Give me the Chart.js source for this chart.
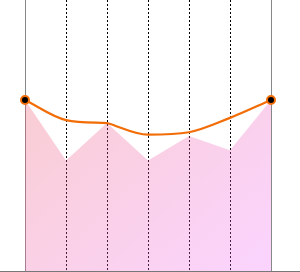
<!DOCTYPE html>
<html>
<head>
<meta charset="utf-8">
<script src="https://cdn.jsdelivr.net/npm/chart.js@4"></script>
<style>
  body { margin: 0; background: #fff; }
  #wrap { width: 300px; height: 271px; border-bottom: 1px solid #777; position: relative; }
</style>
</head>
<body>
<div id="wrap"><canvas id="myChart"></canvas></div>
<script>
// categories along x
var labels = ["1", "2", "3", "4", "5", "6", "7"];
// filled area (jagged)
var areaValues = [63.1, 40.8, 54.6, 40.8, 49.8, 44.6, 63.1];
// orange curve
var lineValues = [63.1, 55.7, 54.6, 50.3, 51.2, 56.5, 63.1];
// the curve has a kink at this category
var kinkIndex = 2;
// only the two ends get a marker
var markerSizes = [4, 0, 0, 0, 0, 0, 4];

var canvas = document.getElementById("myChart");

function areaFill(context) {
  var chart = context.chart;
  var area = chart.chartArea;
  if (!area) return "rgba(232,85,72,0.3)";
  var g = chart.ctx.createLinearGradient(area.left, area.top, area.right, area.bottom);
  g.addColorStop(0, "rgba(236,84,70,0.3)");
  g.addColorStop(1, "rgba(240,112,255,0.3)");
  return g;
}

// split the curve in two pieces that meet at the kink
var leftPart = lineValues.map(function (v, i) { return i <= kinkIndex ? v : null; });
var rightPart = lineValues.map(function (v, i) { return i >= kinkIndex ? v : null; });

var orange = "#f26d07";
function curveSet(values) {
  return {
    data: values,
    borderColor: orange,
    borderWidth: 2.2,
    cubicInterpolationMode: "monotone",
    fill: false,
    pointRadius: values.map(function (v, i) { return v === null ? 0 : markerSizes[i]; }),
    pointBackgroundColor: "#000",
    pointBorderColor: orange,
    pointBorderWidth: 2,
    clip: false
  };
}

var myChart = new Chart(canvas, {
  type: "line",
  data: {
    labels: labels,
    datasets: [
      curveSet(leftPart),
      curveSet(rightPart),
      {
        label: "area",
        data: areaValues,
        borderWidth: 0,
        borderColor: "rgba(0,0,0,0)",
        backgroundColor: areaFill,
        tension: 0,
        fill: "start",
        pointRadius: 0
      }
    ]
  },
  options: {
    responsive: true,
    maintainAspectRatio: false,
    animation: false,
    layout: { autoPadding: false, padding: { left: 25, right: 29, top: 0, bottom: 0 } },
    plugins: { legend: { display: false }, tooltip: { enabled: false } },
    scales: {
      x: {
        ticks: { display: false },
        border: { display: false, dash: [2, 2] },
        grid: {
          drawTicks: false,
          lineWidth: 1,
          color: function (ctx) {
            return ctx.index === 0 || ctx.index === labels.length - 1 ? "rgba(0,0,0,0)" : "#000";
          }
        }
      },
      y: {
        position: "left",
        min: 0,
        max: 100,
        ticks: { display: false },
        grid: { display: false, drawTicks: false },
        border: { display: true, color: "#888" }
      },
      y2: {
        position: "right",
        min: 0,
        max: 100,
        ticks: { display: false },
        grid: { display: false, drawTicks: false },
        border: { display: true, color: "#888" }
      }
    }
  }
});
</script>
</body>
</html>
